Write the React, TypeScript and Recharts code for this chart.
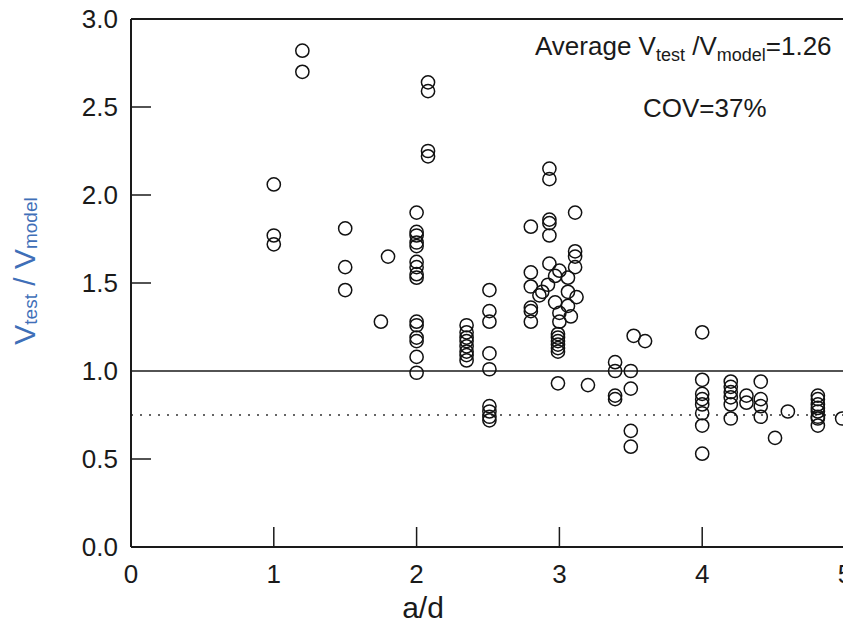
import { ReferenceLine, Scatter, ScatterChart, XAxis, YAxis } from "recharts";

type Pair = [number, number];

// a/d, Vtest/Vmodel
const lowSpan: Pair[] = [
  [1.0, 2.06], [1.0, 1.77], [1.0, 1.72],
  [1.2, 2.82], [1.2, 2.7],
  [1.5, 1.81], [1.5, 1.59], [1.5, 1.46],
  [1.75, 1.28], [1.8, 1.65],
];

const atTwo = [1.9, 1.79, 1.77, 1.73, 1.71, 1.62, 1.59, 1.55, 1.53, 1.28, 1.26, 1.19, 1.17, 1.08, 0.99];
const atTwoPlus = [2.64, 2.59, 2.25, 2.22];
const atTwoThird = [1.26, 1.22, 1.19, 1.17, 1.14, 1.11, 1.09, 1.06];
const atTwoHalf = [1.46, 1.34, 1.28, 1.1, 1.01, 0.8, 0.77, 0.74, 0.72];

const nearThree: Pair[] = [
  [2.8, 1.82], [2.8, 1.56], [2.8, 1.48], [2.8, 1.36], [2.8, 1.34], [2.8, 1.28],
  [2.93, 2.15], [2.93, 2.09], [2.93, 1.86], [2.93, 1.84], [2.93, 1.77], [2.93, 1.61],
  [3.11, 1.9], [3.11, 1.68], [3.11, 1.65], [3.11, 1.59],
  [3.0, 1.57], [2.97, 1.54], [3.06, 1.53], [2.92, 1.49], [2.88, 1.45], [2.86, 1.43],
  [3.06, 1.45], [3.12, 1.42], [2.97, 1.39], [3.06, 1.37], [3.0, 1.33], [3.08, 1.31],
  [3.0, 1.28], [2.99, 1.21], [2.99, 1.19], [2.99, 1.17], [2.99, 1.15], [2.99, 1.13],
  [2.99, 1.11], [2.99, 0.93], [3.2, 0.92],
];

const nearThreeHalf: Pair[] = [
  [3.39, 1.05], [3.39, 1.0], [3.39, 0.86], [3.39, 0.84],
  [3.52, 1.2], [3.6, 1.17], [3.5, 1.0], [3.5, 0.9], [3.5, 0.66], [3.5, 0.57],
];

const nearFour: Pair[] = [
  [4.0, 1.22], [4.0, 0.95], [4.0, 0.87], [4.0, 0.84], [4.0, 0.81], [4.0, 0.76], [4.0, 0.69], [4.0, 0.53],
  [4.2, 0.94], [4.2, 0.91], [4.2, 0.88], [4.2, 0.85], [4.2, 0.81], [4.2, 0.73],
  [4.31, 0.86], [4.31, 0.82],
  [4.41, 0.94], [4.41, 0.84], [4.41, 0.8], [4.41, 0.74],
  [4.51, 0.62], [4.6, 0.77],
  [4.81, 0.86], [4.81, 0.84], [4.81, 0.81], [4.81, 0.79], [4.81, 0.77], [4.81, 0.74], [4.81, 0.73], [4.81, 0.69],
  [4.98, 0.73],
];

const xTicks = [0, 1, 2, 3, 4, 5];
const yTicks = [0, 0.5, 1, 1.5, 2, 2.5, 3];
// ticks that get an inward mark
const xInner = [1, 2, 3, 4];
const yInner = [0.5, 1.5, 2, 2.5];

const column = (ad: number, ratios: number[]): Pair[] => ratios.map((r) => [ad, r]);

const points = [
  ...lowSpan,
  ...column(2.0, atTwo),
  ...column(2.08, atTwoPlus),
  ...column(2.35, atTwoThird),
  ...column(2.51, atTwoHalf),
  ...nearThree,
  ...nearThreeHalf,
  ...nearFour,
].map(([ad, ratio]) => ({ ad, ratio }));

const xMarks = xInner.map((ad) => ({ ad, ratio: 0 }));
const yMarks = yInner.map((ratio) => ({ ad: 0, ratio }));

const FONT = '"Liberation Sans", Arial, sans-serif';
const INK = "#1a1a1a";

function XTick(props: any) {
  const { x, y, payload } = props;
  return (
    <text x={x} y={y} dy="0.71em" textAnchor="middle" fontSize={26} fill={INK} fontFamily={FONT}>
      {payload.value}
    </text>
  );
}

function YTick(props: any) {
  const { x, y, payload } = props;
  return (
    <text x={x} y={y} dy="0.36em" textAnchor="end" fontSize={26} fill={INK} fontFamily={FONT}>
      {Number(payload.value).toFixed(1)}
    </text>
  );
}

const ring = (p: any) => (
  <circle cx={p.cx} cy={p.cy} r={6.6} fill="none" stroke="#111" strokeWidth={1.5} />
);

const upMark = (p: any) => (
  <line x1={p.cx} x2={p.cx} y1={p.cy} y2={p.cy - 20} stroke={INK} strokeWidth={1.5} />
);

const rightMark = (p: any) => (
  <line x1={p.cx} x2={p.cx + 20} y1={p.cy} y2={p.cy} stroke={INK} strokeWidth={1.5} />
);

export default function App() {
  return (
    <div
      style={{
        position: "fixed",
        left: 0,
        top: 0,
        width: 843,
        height: 630,
        overflow: "hidden",
        background: "#fff",
      }}
    >
      <ScatterChart width={880} height={630} margin={{ top: 19, right: 35, bottom: 0, left: 0 }}>
        <XAxis
          type="number"
          dataKey="ad"
          domain={[0, 5]}
          ticks={xTicks}
          height={83}
          tickSize={0}
          tickMargin={18}
          tickLine={false}
          axisLine={{ stroke: INK, strokeWidth: 2 }}
          tick={(p: any) => <XTick {...p} />}
          interval={0}
        />
        <YAxis
          type="number"
          dataKey="ratio"
          domain={[0, 3]}
          ticks={yTicks}
          width={131}
          tickSize={0}
          tickMargin={13}
          tickLine={false}
          axisLine={{ stroke: INK, strokeWidth: 2 }}
          tick={(p: any) => <YTick {...p} />}
          interval={0}
        />
        <ReferenceLine y={3} stroke={INK} strokeWidth={2} />
        <ReferenceLine y={1} stroke={INK} strokeWidth={1.6} />
        <ReferenceLine y={0.75} stroke="#333" strokeWidth={1.6} strokeDasharray="2 7" />
        <Scatter data={xMarks} shape={upMark} isAnimationActive={false} />
        <Scatter data={yMarks} shape={rightMark} isAnimationActive={false} />
        <Scatter data={points} shape={ring} isAnimationActive={false} />
      </ScatterChart>

      <svg
        width={843}
        height={630}
        style={{ position: "absolute", left: 0, top: 0, pointerEvents: "none" }}
        fontFamily={FONT}
      >
        <text x={535} y={55} fontSize={26} fill={INK}>
          Average V
          <tspan fontSize={18} dy={6}>test</tspan>
          <tspan fontSize={26} dy={-6}> /V</tspan>
          <tspan fontSize={18} dy={6}>model</tspan>
          <tspan fontSize={26} dy={-6}>=1.26</tspan>
        </text>
        <text x={643} y={117} fontSize={26} fill={INK}>
          COV=37%
        </text>
        <text x={423} y={618} fontSize={30} textAnchor="middle" fill={INK}>
          a/d
        </text>
        <text transform="translate(35, 271) rotate(-90)" textAnchor="middle" fontSize={30} fill="#3f6fb8">
          V
          <tspan fontSize={19} dy={2}>test</tspan>
          <tspan fontSize={30} dy={-2}> / V</tspan>
          <tspan fontSize={19} dy={2}>model</tspan>
        </text>
      </svg>
    </div>
  );
}
